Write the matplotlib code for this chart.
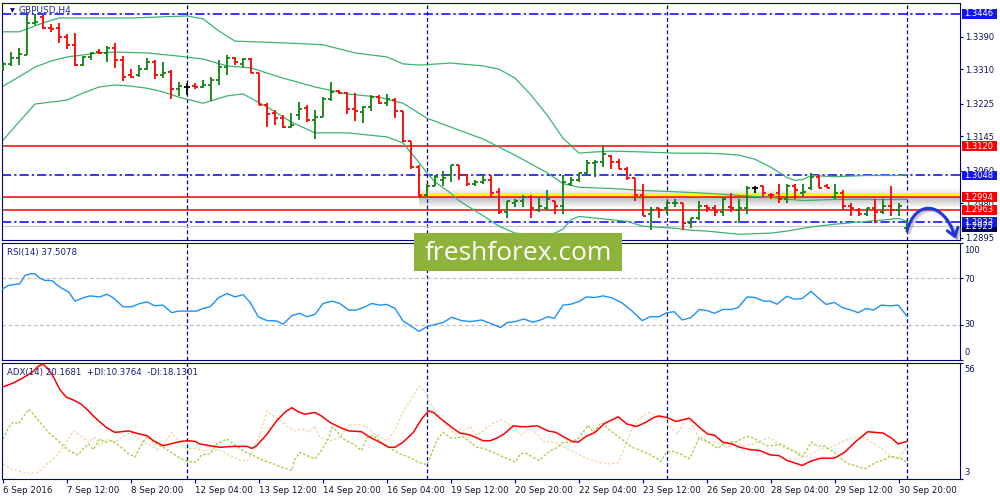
import matplotlib
matplotlib.use("Agg")
import matplotlib.pyplot as plt
import matplotlib.transforms as mtransforms
from matplotlib.collections import LineCollection
from matplotlib.patches import Rectangle, FancyArrowPatch
from matplotlib.path import Path
import numpy as np

plt.rcParams['font.family'] = ['DejaVu Sans']

# GBPUSD H4 bars, 6 Sep 04:00 .. 3 Oct 00:00
opens = [1.3313, 1.3323, 1.3337, 1.3345, 1.3424, 1.3439, 1.3411, 1.3411, 1.3389, 1.3370,
         1.3320, 1.3340, 1.3352, 1.3350, 1.3362, 1.3333, 1.3296, 1.3296, 1.3310, 1.3328,
         1.3296, 1.3303, 1.3261, 1.3266, 1.3268, 1.3266, 1.3271, 1.3283, 1.3315, 1.3337,
         1.3323, 1.3335, 1.3300, 1.3222, 1.3202, 1.3189, 1.3167, 1.3197, 1.3214, 1.3185,
         1.3192, 1.3236, 1.3256, 1.3251, 1.3212, 1.3204, 1.3217, 1.3241, 1.3226, 1.3234,
         1.3207, 1.3133, 1.3070, 1.2999, 1.3023, 1.3036, 1.3048, 1.3073, 1.3048, 1.3028,
         1.3033, 1.3038, 1.3008, 1.2957, 1.2981, 1.2986, 1.2994, 1.2962, 1.2967, 1.2986,
         1.2974, 1.3028, 1.3038, 1.3053, 1.3078, 1.3080, 1.3096, 1.3080, 1.3065, 1.3041,
         1.3001, 1.2952, 1.2967, 1.2967, 1.2979, 1.2979, 1.2932, 1.2942, 1.2974, 1.2969,
         1.2957, 1.2971, 1.2962, 1.2967, 1.3016, 1.3021, 1.3001, 1.3004, 1.2989, 1.3023,
         1.3006, 1.3016, 1.3045, 1.3021, 1.2994, 1.3004, 1.2974, 1.2962, 1.2954, 1.2969,
         1.2957, 1.2974, 1.2964, 1.2918]
highs = [1.3328, 1.3352, 1.3362, 1.3446, 1.3446, 1.3444, 1.3421, 1.3424, 1.3397, 1.3399,
         1.3342, 1.3352, 1.3360, 1.3367, 1.3374, 1.3342, 1.3310, 1.3320, 1.3337, 1.3333,
         1.3328, 1.3308, 1.3278, 1.3276, 1.3276, 1.3283, 1.3291, 1.3333, 1.3345, 1.3340,
         1.3337, 1.3337, 1.3300, 1.3226, 1.3209, 1.3197, 1.3202, 1.3229, 1.3222, 1.3209,
         1.3241, 1.3278, 1.3259, 1.3254, 1.3251, 1.3219, 1.3246, 1.3246, 1.3249, 1.3239,
         1.3207, 1.3133, 1.3073, 1.3026, 1.3048, 1.3060, 1.3073, 1.3075, 1.3048, 1.3038,
         1.3048, 1.3048, 1.3016, 1.2986, 1.2989, 1.3001, 1.3001, 1.2994, 1.3011, 1.2986,
         1.3048, 1.3045, 1.3055, 1.3085, 1.3085, 1.3120, 1.3098, 1.3088, 1.3068, 1.3043,
         1.3028, 1.2971, 1.2969, 1.2986, 1.2989, 1.2981, 1.2944, 1.2984, 1.2976, 1.2976,
         1.2994, 1.3006, 1.2989, 1.3023, 1.3023, 1.3023, 1.3006, 1.3028, 1.3028, 1.3028,
         1.3028, 1.3053, 1.3050, 1.3028, 1.3028, 1.3011, 1.2979, 1.2967, 1.2969, 1.2991,
         1.2991, 1.3021, 1.2979, 1.2939]
lows = [1.3305, 1.3318, 1.3320, 1.3345, 1.3419, 1.3409, 1.3402, 1.3374, 1.3360, 1.3318,
        1.3318, 1.3333, 1.3347, 1.3328, 1.3313, 1.3281, 1.3288, 1.3291, 1.3308, 1.3286,
        1.3288, 1.3236, 1.3244, 1.3246, 1.3261, 1.3263, 1.3231, 1.3271, 1.3296, 1.3320,
        1.3315, 1.3300, 1.3222, 1.3167, 1.3172, 1.3165, 1.3165, 1.3185, 1.3180, 1.3138,
        1.3192, 1.3231, 1.3249, 1.3199, 1.3182, 1.3177, 1.3207, 1.3224, 1.3219, 1.3189,
        1.3130, 1.3065, 1.2994, 1.2994, 1.3021, 1.3023, 1.3033, 1.3036, 1.3021, 1.3023,
        1.3028, 1.2994, 1.2952, 1.2944, 1.2971, 1.2971, 1.2944, 1.2957, 1.2962, 1.2952,
        1.2952, 1.3023, 1.3033, 1.3048, 1.3045, 1.3068, 1.3065, 1.3063, 1.3036, 1.2986,
        1.2947, 1.2913, 1.2942, 1.2952, 1.2971, 1.2913, 1.2918, 1.2939, 1.2957, 1.2947,
        1.2947, 1.2957, 1.2932, 1.2952, 1.3006, 1.2994, 1.2991, 1.2979, 1.2981, 1.2989,
        1.2994, 1.3013, 1.3018, 1.3016, 1.2989, 1.2962, 1.2949, 1.2949, 1.2949, 1.2932,
        1.2954, 1.2949, 1.2949, 1.2913]
closes = [1.3323, 1.3337, 1.3347, 1.3424, 1.3426, 1.3411, 1.3409, 1.3389, 1.3370, 1.3320,
          1.3340, 1.3350, 1.3350, 1.3362, 1.3333, 1.3291, 1.3291, 1.3310, 1.3328, 1.3296,
          1.3300, 1.3261, 1.3268, 1.3266, 1.3266, 1.3271, 1.3283, 1.3315, 1.3337, 1.3328,
          1.3335, 1.3300, 1.3222, 1.3199, 1.3189, 1.3167, 1.3172, 1.3212, 1.3185, 1.3192,
          1.3236, 1.3254, 1.3251, 1.3212, 1.3207, 1.3217, 1.3241, 1.3226, 1.3236, 1.3207,
          1.3133, 1.3068, 1.2999, 1.3023, 1.3045, 1.3041, 1.3073, 1.3050, 1.3028, 1.3033,
          1.3038, 1.3006, 1.2957, 1.2984, 1.2986, 1.2994, 1.2967, 1.2974, 1.2991, 1.2974,
          1.3033, 1.3038, 1.3053, 1.3078, 1.3080, 1.3101, 1.3080, 1.3065, 1.3041, 1.3001,
          1.2949, 1.2964, 1.2964, 1.2979, 1.2981, 1.2932, 1.2942, 1.2974, 1.2969, 1.2957,
          1.2989, 1.2967, 1.2967, 1.3018, 1.3016, 1.3004, 1.2999, 1.2991, 1.3023, 1.3011,
          1.3008, 1.3045, 1.3018, 1.3018, 1.3004, 1.2974, 1.2967, 1.2954, 1.2969, 1.2957,
          1.2974, 1.2964, 1.2974, 1.2923]

# Bollinger bands (bar index, price)
bb_up_bar = [0, 2, 3, 5, 7, 12, 16, 20, 23, 25, 27, 29, 32, 36, 40, 44, 48, 50, 52, 56,
             60, 62, 64, 66, 68, 70, 72, 74, 76, 80, 84, 88, 90, 92, 94, 96, 98, 99, 100,
             101, 104, 108, 112, 113]
bb_up_val = [1.3402, 1.3402, 1.3409, 1.3424, 1.3436, 1.3436, 1.3436, 1.3439, 1.3441, 1.3434,
             1.3404, 1.3379, 1.3377, 1.3374, 1.3370, 1.3350, 1.3340, 1.3323, 1.3320, 1.3325,
             1.3318, 1.3310, 1.3288, 1.3246, 1.3197, 1.3140, 1.3103, 1.3106, 1.3108, 1.3106,
             1.3103, 1.3103, 1.3101, 1.3098, 1.3088, 1.3068, 1.3043, 1.3036, 1.3038,
             1.3048, 1.3045, 1.3048, 1.3048, 1.3050]
bb_mid_bar = [0, 2, 4, 6, 8, 12, 14, 18, 22, 25, 28, 31, 35, 39, 43, 47, 50, 53, 56, 60,
              64, 68, 70, 72, 76, 80, 84, 88, 92, 96, 100, 104, 108, 112, 113]
bb_mid_val = [1.3268, 1.3291, 1.3315, 1.3330, 1.3340, 1.3350, 1.3352, 1.3350, 1.3342, 1.3335,
              1.3318, 1.3313, 1.3288, 1.3266, 1.3249, 1.3241, 1.3226, 1.3189, 1.3167, 1.3138,
              1.3098, 1.3055, 1.3028, 1.3019, 1.3016, 1.3011, 1.3008, 1.3004, 1.2999, 1.2994,
              1.2986, 1.2989, 1.2989, 1.2989, 1.2989]
bb_low_bar = [0, 2, 4, 6, 8, 10, 12, 14, 16, 18, 20, 22, 25, 28, 30, 33, 36, 39, 43, 48,
              50, 52, 53, 54, 56, 57, 60, 62, 64, 66, 68, 69, 70, 71, 72, 76, 78, 80, 84,
              86, 88, 92, 96, 98, 101, 104, 108, 112, 113]
bb_low_val = [1.3135, 1.3180, 1.3224, 1.3229, 1.3234, 1.3251, 1.3266, 1.3271, 1.3268, 1.3263,
              1.3254, 1.3241, 1.3226, 1.3244, 1.3249, 1.3217, 1.3180, 1.3153, 1.3153, 1.3143,
              1.3128, 1.3080, 1.3054, 1.3032, 1.3004, 1.2986, 1.2949, 1.2923, 1.2906, 1.2903,
              1.2903, 1.2906, 1.2916, 1.2939, 1.2947, 1.2939, 1.2935, 1.2923, 1.2918,
              1.2913, 1.2911, 1.2903, 1.2906, 1.2911, 1.2921, 1.2928, 1.2935, 1.2942, 1.2935]

# RSI(14)
rsi_bar = [0, 0.7, 1.5, 2.1, 2.75, 3.4, 4.0, 4.6, 5.25, 6.1, 6.7, 7.3, 8.2, 9.0, 10.0, 10.9,
           12.1, 13.0, 13.8, 15.0, 16.1, 17.1, 18.0, 19.0, 20.0, 21.1, 21.9, 23.0, 24.2, 25.0,
           25.9, 26.9, 28.0, 29.0, 30.0, 30.9, 31.9, 33.0, 34.2, 35.0, 36.1, 37.1, 38.0, 39.0,
           40.0, 41.1, 42.1, 43.2, 44.2, 45.25, 46.1, 47.1, 48.0, 49.0, 50.0, 51.1, 52.0, 53.0,
           53.8, 55.0, 56.1, 57.3, 58.4, 59.8, 60.9, 62.2, 63.0, 64.05, 65.1, 66.2, 67.2, 68.1,
           68.9, 70.0, 71.0, 72.1, 72.9, 74.0, 75.0, 76.1, 77.35, 78.6, 79.9, 80.9, 82.0, 83.0,
           83.9, 84.9, 86.0, 87.05, 88.1, 88.9, 90.0, 91.1, 91.9, 93.0, 94.0, 95.1, 95.9, 96.75,
           98.0, 98.9, 99.9, 101.0, 102.0, 102.9, 103.9, 105.0, 106.0, 106.9, 107.9, 108.8,
           109.8, 110.9, 111.9, 113.0]
rsi_val = [61.0, 63.8, 64.6, 65.2, 72.3, 73.7, 73.7, 70.0, 68.0, 68.0, 64.4, 61.5, 58.2, 50.3,
           53.1, 54.8, 53.9, 56.2, 53.1, 45.5, 45.5, 48.3, 49.7, 46.3, 46.9, 40.4, 41.8, 41.8,
           41.8, 44.1, 45.5, 53.1, 56.8, 53.9, 55.9, 49.2, 37.0, 33.7, 33.4, 30.6, 37.9, 39.9,
           37.0, 39.0, 48.3, 50.3, 48.3, 42.7, 42.7, 45.5, 48.3, 46.9, 47.5, 44.1, 33.4, 28.6,
           24.4, 28.6, 30.0, 32.0, 36.5, 33.7, 32.8, 34.2, 31.4, 27.7, 32.0, 32.8, 35.1, 32.3,
           34.2, 37.0, 35.6, 46.9, 47.7, 50.3, 53.9, 53.4, 54.8, 53.1, 48.9, 42.1, 33.7, 37.0,
           37.0, 40.4, 41.3, 34.2, 36.2, 43.2, 42.1, 39.9, 43.2, 43.2, 44.9, 53.9, 53.4, 50.3,
           50.3, 47.7, 54.5, 52.0, 52.5, 58.7, 52.5, 47.5, 49.2, 44.6, 42.7, 40.4, 44.1, 42.7,
           46.9, 46.3, 46.9, 37.5]

# ADX(14), +DI, -DI
adx_bar = [0, 1.3, 2.5, 3.8, 4.4, 5.0, 5.7, 6.3, 7.1, 7.9, 8.8, 9.8, 10.7, 11.3, 12.1, 12.9,
           14.0, 14.8, 15.7, 16.3, 17.1, 18.0, 18.8, 20.0, 20.9, 22.1, 23.0, 24.0, 24.6, 25.9,
           27.1, 28.8, 30.5, 31.1, 31.7, 33.0, 34.2, 35.3, 36.1, 36.9, 37.75, 39.0, 39.8, 40.9,
           42.1, 43.2, 44.8, 45.9, 47.1, 48.2, 49.0, 50.0, 51.3, 52.3, 53.2, 53.8, 54.8, 56.1,
           57.1, 58.4, 60.0, 60.9, 61.7, 62.6, 63.8, 64.7, 65.5, 66.8, 68.1, 69.1, 70.2, 71.2,
           71.9, 72.9, 74.0, 75.2, 76.9, 78.0, 79.2, 80.3, 81.35, 82.0, 83.0, 84.1, 85.8, 87.05,
           88.1, 88.9, 90.0, 91.1, 92.1, 93.4, 94.6, 95.9, 97.0, 98.0, 99.9, 101.0, 102.2,
           103.9, 105.2, 106.5, 108.1, 109.0, 110.0, 111.1, 111.9, 113.0]
adx_val = [45.1, 46.9, 49.2, 52.2, 54.5, 55.5, 53.0, 49.7, 43.9, 40.4, 39.1, 37.1, 34.1, 31.8,
           29.1, 26.6, 24.3, 24.6, 25.0, 24.3, 23.5, 22.8, 20.5, 18.2, 19.0, 20.1, 20.5, 20.2,
           19.0, 18.2, 17.5, 17.9, 17.9, 17.0, 18.2, 23.5, 29.6, 33.7, 35.6, 33.7, 32.6, 33.4,
           31.8, 28.8, 26.6, 25.0, 24.6, 22.0, 19.8, 17.5, 17.5, 19.8, 24.3, 30.3, 34.1, 33.4,
           30.3, 26.6, 24.0, 23.1, 20.5, 20.5, 21.6, 23.5, 27.3, 26.9, 26.9, 27.3, 25.0, 24.3,
           22.0, 20.1, 19.8, 22.5, 24.3, 28.4, 31.4, 28.1, 27.0, 28.8, 31.1, 31.8, 31.1, 29.3,
           30.8, 26.6, 23.5, 23.1, 19.8, 19.0, 17.5, 16.4, 16.0, 14.0, 13.7, 11.5, 9.2, 11.2,
           12.5, 12.5, 15.2, 19.8, 24.6, 24.3, 24.0, 21.6, 19.0, 20.2]
pdi_bar = [0, 0.7, 1.3, 1.9, 2.5, 3.2, 3.8, 4.8, 5.9, 7.1, 8.2, 9.4, 10.0, 10.7, 11.3, 12.1,
           12.75, 13.6, 14.6, 15.7, 16.5, 17.1, 18.0, 18.8, 20.0, 21.3, 22.3, 23.2, 24.2, 24.8,
           25.9, 26.7, 28.0, 28.8, 30.0, 31.3, 32.5, 33.8, 34.8, 36.1, 36.5, 37.1, 38.0, 39.0,
           39.8, 40.7, 41.1, 41.5, 42.5, 43.8, 44.8, 45.5, 46.3, 47.3, 48.6, 49.6, 50.7, 51.9,
           53.0, 53.4, 54.2, 55.0, 55.9, 56.7, 57.5, 58.4, 59.2, 60.0, 61.3, 62.6, 63.6, 64.0,
           64.7, 65.3, 66.2, 67.0, 67.9, 68.5, 69.3, 70.0, 71.0, 71.9, 72.5, 73.1, 73.8, 74.8,
           75.7, 76.5, 77.6, 78.6, 79.7, 80.7, 81.8, 82.2, 83.0, 83.9, 84.9, 85.8, 86.4, 87.05,
           87.9, 88.7, 89.4, 90.0, 90.8, 91.7, 92.5, 93.2, 94.0, 94.6, 95.5, 96.3, 97.2, 98.2,
           99.1, 99.9, 100.55, 101.0, 101.8, 102.7, 103.9, 104.8, 105.6, 106.7, 107.7, 108.3,
           109.2, 110.0, 110.9, 111.5, 112.4, 113.0]
pdi_val = [21.3, 26.6, 29.1, 28.1, 31.1, 34.9, 32.6, 28.1, 23.5, 19.8, 16.0, 14.0, 16.7, 19.0,
           16.4, 21.3, 19.8, 20.5, 18.0, 14.5, 13.0, 17.5, 22.5, 19.8, 17.5, 14.5, 12.2, 11.0,
           10.7, 14.0, 14.5, 19.0, 21.3, 19.0, 16.0, 13.7, 11.5, 10.0, 8.4, 6.9, 12.2, 15.2,
           13.7, 12.2, 16.0, 21.6, 26.6, 25.8, 21.3, 19.0, 16.0, 22.0, 22.8, 19.8, 16.7, 14.5,
           13.0, 10.7, 9.5, 13.0, 20.5, 24.3, 22.0, 21.6, 22.5, 19.8, 17.5, 17.0, 15.2, 13.0,
           11.5, 10.7, 14.5, 14.9, 13.0, 11.5, 14.5, 16.0, 17.5, 19.8, 19.8, 21.6, 24.3, 27.6,
           24.3, 28.8, 25.8, 23.5, 20.5, 17.5, 16.0, 14.5, 12.2, 11.0, 15.5, 15.5, 14.0, 12.2,
           17.0, 22.0, 20.5, 18.6, 17.0, 19.0, 19.8, 20.1, 21.6, 22.5, 21.3, 19.8, 18.2, 18.2,
           19.0, 17.0, 15.2, 13.0, 16.7, 19.8, 18.2, 17.9, 15.2, 12.2, 10.0, 8.9, 7.7, 8.9,
           10.7, 11.5, 13.4, 13.0, 12.2, 10.4]
mdi_bar = [0, 0.9, 2.1, 3.4, 4.4, 5.5, 6.1, 6.7, 7.75, 8.8, 9.6, 10.7, 11.5, 12.1, 13.0, 14.0,
           14.8, 15.9, 16.7, 17.5, 18.2, 19.2, 20.0, 21.1, 22.1, 23.0, 24.0, 25.0, 26.3, 27.3,
           28.4, 29.4, 30.5, 31.3, 32.1, 33.0, 33.8, 34.8, 35.7, 36.5, 37.5, 38.2, 39.0, 39.6,
           40.9, 42.1, 43.2, 44.4, 45.5, 46.7, 48.0, 48.8, 50.0, 51.1, 52.0, 52.75, 53.4, 54.2,
           55.5, 56.5, 57.5, 58.4, 59.2, 60.0, 61.1, 62.2, 63.0, 63.8, 64.7, 65.7, 66.6, 67.6,
           68.5, 69.5, 70.6, 71.9, 73.1, 74.4, 75.7, 76.9, 77.8, 78.6, 79.5, 80.7, 81.8, 82.6,
           83.5, 84.3, 85.4, 86.0, 87.05, 87.9, 88.7, 89.8, 90.6, 91.7, 92.5, 93.8, 95.1, 95.9,
           96.8, 98.0, 99.3, 100.3, 101.4, 102.45, 103.5, 104.8, 106.0, 107.3, 108.1, 108.9,
           110.0, 111.1, 111.9, 113.0]
mdi_val = [9.9, 7.7, 6.5, 5.4, 6.2, 9.9, 11.5, 13.7, 18.6, 25.0, 23.1, 19.8, 22.0, 18.2, 21.3,
           19.8, 22.0, 24.3, 22.0, 19.8, 19.0, 16.4, 18.6, 24.3, 19.8, 16.7, 17.0, 16.0, 16.4,
           16.0, 13.7, 11.9, 11.0, 16.0, 23.5, 34.1, 31.8, 29.6, 26.6, 25.0, 25.8, 24.3, 27.3,
           22.0, 20.5, 22.0, 27.3, 28.1, 26.6, 22.8, 20.5, 24.3, 33.4, 40.1, 45.4, 43.2, 37.9,
           32.6, 27.3, 23.5, 25.0, 27.0, 22.8, 25.0, 28.1, 30.0, 28.8, 26.6, 22.8, 26.1, 24.3,
           19.8, 20.1, 19.0, 16.7, 14.5, 12.2, 10.7, 9.9, 10.4, 18.2, 25.8, 30.3, 33.4, 31.8,
           30.3, 26.6, 23.5, 31.1, 28.8, 21.3, 19.8, 20.1, 19.0, 17.0, 20.1, 18.2, 19.0, 21.0,
           22.0, 19.0, 16.7, 15.2, 13.0, 15.2, 17.0, 17.5, 19.8, 21.6, 22.5, 21.0, 19.0, 16.4,
           13.0, 12.2, 18.1]

# horizontal levels, axis labels
red_levels = [1.3120, 1.2994, 1.2963]
blue_levels = [1.3446, 1.3048, 1.2933]
bid_price = 1.2923
price_ticks = [1.3390, 1.3310, 1.3225, 1.3145, 1.3060, 1.2980, 1.2895]
week_starts = [23, 53, 83, 113]
date_bars = [0, 8, 16, 24, 32, 40, 48, 56, 64, 72, 80, 88, 96, 104, 112]
date_labels = ['6 Sep 2016', '7 Sep 12:00', '8 Sep 20:00', '12 Sep 04:00', '13 Sep 12:00',
               '14 Sep 20:00', '16 Sep 04:00', '19 Sep 12:00', '20 Sep 20:00', '22 Sep 04:00',
               '23 Sep 12:00', '26 Sep 20:00', '28 Sep 04:00', '29 Sep 12:00', '30 Sep 20:00']

NAVY = '#000080'
TXT = '#10105a'
UP, DOWN = '#118011', '#ff0000'
XMIN, XMAX = -0.125, 119.625

fig = plt.figure(figsize=(10, 5), dpi=100)
ax = fig.add_axes([0.002, 0.52, 0.958, 0.474])
ax_rsi = fig.add_axes([0.002, 0.28, 0.958, 0.234], sharex=ax)
ax_adx = fig.add_axes([0.002, 0.042, 0.958, 0.232], sharex=ax)
ax.set_zorder(3)

for a in (ax, ax_rsi, ax_adx):
    for s in a.spines.values():
        s.set_color(NAVY)
        s.set_linewidth(0.8)
    for b in week_starts:
        a.axvline(b, color=NAVY, lw=0.9, ls=(0, (3, 2)), zorder=1)

# ---- price panel ----
ax.set_facecolor('white')
band_lo, band_hi = red_levels[1], red_levels[1] + 0.0011
ax.add_patch(Rectangle((52, band_lo), XMAX - 52, band_hi - band_lo, fc='#ffff00', ec='none', zorder=1.3))
shade = np.zeros((24, 1, 4))
shade[..., :3] = 0.45
shade[:, 0, 3] = np.linspace(0.5, 0.0, 24)
ax.imshow(shade, extent=(52, XMAX, band_lo - 0.0026, band_lo), origin='upper',
          aspect='auto', interpolation='bilinear', zorder=1.2)
shade_top = shade.copy()
shade_top[:, 0, 3] = np.linspace(0.18, 0.0, 24)
ax.imshow(shade_top, extent=(52, XMAX, band_hi, band_hi + 0.0010), origin='lower',
          aspect='auto', interpolation='bilinear', zorder=1.2)

for lv in red_levels:
    ax.axhline(lv, color='#ff0000', lw=1.1, zorder=1.5)
for lv in blue_levels:
    ax.axhline(lv, color='#0000ff', lw=1.1, ls=(0, (6, 2, 1.5, 2)), zorder=1.5)
ax.axhline(bid_price, color='#c8c8c8', lw=0.9, zorder=1.4)

ax.plot(bb_up_bar, bb_up_val, color='#3cb371', lw=0.9, zorder=2)
ax.plot(bb_mid_bar, bb_mid_val, color='#3cb371', lw=0.9, zorder=2)
ax.plot(bb_low_bar, bb_low_val, color='#3cb371', lw=0.9, zorder=2)

segs, cols = [], []
for i, (o, h, l, c) in enumerate(zip(opens, highs, lows, closes)):
    col = UP if c > o else (DOWN if c < o else 'black')
    segs += [[(i, l), (i, h)], [(i - 0.36, o), (i, o)], [(i, c), (i + 0.36, c)]]
    cols += [col] * 3
ax.add_collection(LineCollection(segs, colors=cols, linewidths=1.3, capstyle='butt', zorder=3))

# forecast arrow
verts = [(113.0, 1.2911), (114.0, 1.2988), (117.5, 1.2988), (119.1, 1.2892)]
arrow_path = Path(verts, [Path.MOVETO, Path.CURVE4, Path.CURVE4, Path.CURVE4])
shadow_tr = ax.transData + mtransforms.ScaledTranslation(1.5 / 72, -1.5 / 72, fig.dpi_scale_trans)
ax.add_patch(FancyArrowPatch(path=arrow_path, arrowstyle='->,head_length=5.5,head_width=4',
                             color='#808080', alpha=0.4, lw=2.4, transform=shadow_tr,
                             clip_on=False, zorder=8))
ax.add_patch(FancyArrowPatch(path=arrow_path, arrowstyle='->,head_length=5.5,head_width=4',
                             color='#1f3ad6', lw=2.2, clip_on=False, zorder=9))

ax.set_xlim(XMIN, XMAX)
ax.set_ylim(1.2889, 1.3473)
ax.yaxis.tick_right()
ax.set_yticks(price_ticks)
ax.set_yticklabels([f'{p:.4f}' for p in price_ticks])
ax.tick_params(axis='y', length=2.5, width=0.8, color=NAVY, labelsize=6, labelcolor=TXT, pad=1.5)
ax.tick_params(axis='x', bottom=False, labelbottom=False)

blend = mtransforms.blended_transform_factory(ax.transAxes, ax.transData)
box_h = 0.00245


def price_box(price, fc, text=None):
    ax.add_patch(Rectangle((1.002, price - box_h / 2), 0.037, box_h, transform=blend,
                           fc=fc, ec='none', clip_on=False, zorder=10))
    ax.text(1.0045, price, text or f'{price:.4f}', transform=blend, ha='left', va='center',
            fontsize=6, color='white', clip_on=False, zorder=11)


price_box(bid_price - 0.0001, '#000050', '1.2925')
for lv in blue_levels:
    price_box(lv, '#1414f0')
for lv in red_levels:
    price_box(lv, '#ff0000')

ax.text(0.008, 0.968, '\u25bc', transform=ax.transAxes, fontsize=4.5, color=NAVY, va='center')
ax.text(0.017, 0.968, 'GBPUSD,H4', transform=ax.transAxes, fontsize=6.5, color='#2a2a9a', va='center')

# ---- RSI panel ----
ax_rsi.axhline(70, color='#c0c0c0', lw=0.9, ls=(0, (3, 2)), zorder=1)
ax_rsi.axhline(30, color='#c0c0c0', lw=0.9, ls=(0, (3, 2)), zorder=1)
ax_rsi.plot(rsi_bar, rsi_val, color='#1e90ff', lw=1.0, zorder=3)
ax_rsi.set_ylim(0, 100)
ax_rsi.yaxis.tick_right()
ax_rsi.set_yticks([0, 30, 70, 100])
ax_rsi.tick_params(axis='y', length=2.5, width=0.8, color=NAVY, labelright=False)
ax_rsi.tick_params(axis='x', bottom=False, labelbottom=False)
for frac, lab in [(0.94, '100'), (0.686, '70'), (0.30, '30'), (0.06, '0')]:
    ax_rsi.text(1.0045, frac, lab, transform=ax_rsi.transAxes, fontsize=6, color=TXT, va='center', clip_on=False)
ax_rsi.text(0.0055, 0.92, 'RSI(14) 37.5078', transform=ax_rsi.transAxes, fontsize=6.2, color='#1a1a80', va='center')

# ---- ADX panel ----
ax_adx.plot(mdi_bar, mdi_val, color='#f5d2a0', lw=0.9, ls=(0, (2, 1.5)), zorder=2)
ax_adx.plot(pdi_bar, pdi_val, color='#9acd32', lw=0.9, ls=(0, (2, 1.5)), zorder=2)
ax_adx.plot(adx_bar, adx_val, color='#ff0000', lw=1.1, zorder=3)
ax_adx.set_ylim(3, 56)
ax_adx.yaxis.tick_right()
ax_adx.set_yticks([3, 56])
ax_adx.tick_params(axis='y', length=2.5, width=0.8, color=NAVY, labelright=False)
for frac, lab in [(0.94, '56'), (0.06, '3')]:
    ax_adx.text(1.0045, frac, lab, transform=ax_adx.transAxes, fontsize=6, color=TXT, va='center', clip_on=False)
ax_adx.text(0.0055, 0.92, 'ADX(14) 20.1681  +DI:10.3764  -DI:18.1301', transform=ax_adx.transAxes,
            fontsize=6.2, color='#1a1a80', va='center')
ax_adx.set_xticks(date_bars)
ax_adx.set_xticklabels(date_labels, ha='left', fontsize=6.2, color='#101030')
ax_adx.tick_params(axis='x', length=3, width=0.8, color=NAVY, pad=2)
ax_adx.set_xlim(XMIN, XMAX)

# watermark
fig.add_artist(Rectangle((0.414, 0.458), 0.208, 0.076, transform=fig.transFigure,
                         fc='#8db33a', ec='none', zorder=10))
fig.text(0.518, 0.494, 'freshforex.com', fontsize=19, color='white', ha='center', va='center',
         family='Open Sans', zorder=11)

fig.savefig('out.png', dpi=100, facecolor='white')
